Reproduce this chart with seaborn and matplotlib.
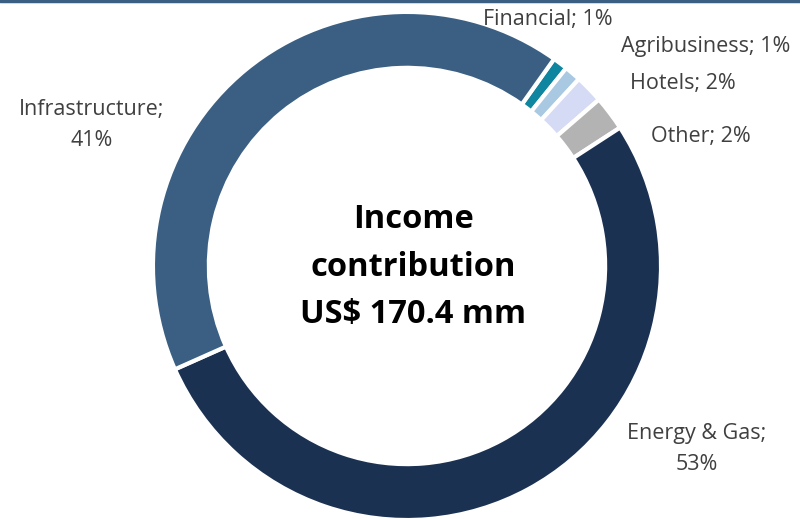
import matplotlib.pyplot as plt
import matplotlib.lines as mlines
import seaborn as sns

# Data
sectors = ['Financial', 'Agribusiness', 'Hotels', 'Other', 'Energy & Gas', 'Infrastructure']
shares = [0.95, 1.05, 1.8, 2.2, 52.5, 41.5]
share_labels = ['1%', '1%', '2%', '2%', '53%', '41%']
colors = ['#0E86A0', '#A9C9E2', '#D5DAF5', '#B3B3B3', '#1B3152', '#3A5F83']

sns.set_theme(style='white')
plt.rcParams['font.family'] = ['Open Sans', 'DejaVu Sans']

fig = plt.figure(figsize=(8, 5.19), dpi=100)
ax = fig.add_axes([0, 0, 1, 1])

# Donut
ax.pie(shares, colors=colors, startangle=54.6, counterclock=False,
       wedgeprops=dict(width=0.22, edgecolor='white', linewidth=3))

ax.set_aspect('equal')
ax.set_xlim(-1.602, 1.547)
ax.set_ylim(-0.996, 1.047)
ax.axis('off')

# Labels (placed like the original Excel chart)
label_pos = {
    'Financial': (0.555, 0.969, 'single'),
    'Agribusiness': (1.177, 0.862, 'single'),
    'Hotels': (1.087, 0.717, 'single'),
    'Other': (1.157, 0.508, 'single'),
    'Energy & Gas': (1.142, -0.720, 'double'),
    'Infrastructure': (-1.240, 0.555, 'double'),
}
for name, pct in zip(sectors, share_labels):
    x, y, kind = label_pos[name]
    txt = f'{name}; {pct}' if kind == 'single' else f'{name};\n{pct}'
    ax.text(x, y, txt, ha='center', va='center', fontsize=15.5,
            color='#404040', linespacing=1.65)

# Centre text
ax.text(0.024, -0.005, 'Income\ncontribution\nUS$ 170.4 mm', ha='center', va='center',
        fontsize=23.5, fontweight='bold', color='black', linespacing=1.58)

# Top border line
fig.add_artist(mlines.Line2D([0, 1], [0.998, 0.998], transform=fig.transFigure,
                             color='#3A5F83', linewidth=2.5))

plt.savefig('out.png', dpi=100)
